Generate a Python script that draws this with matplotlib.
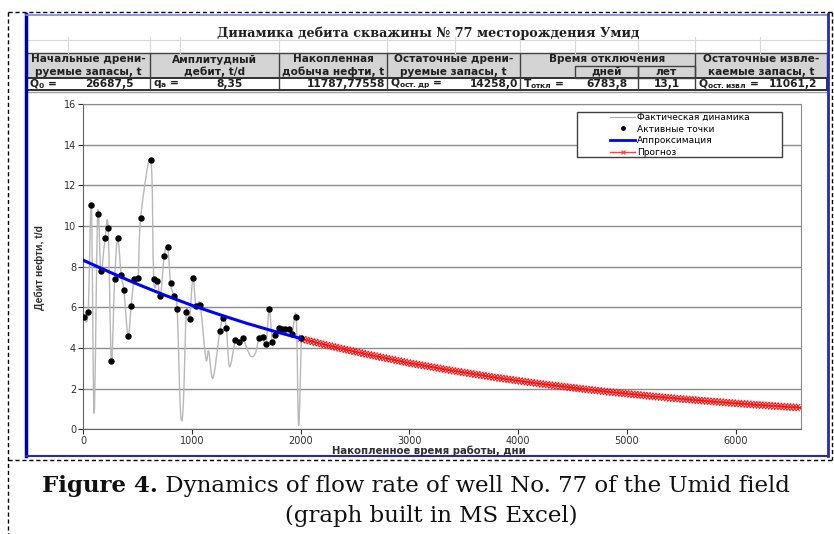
import numpy as np
import matplotlib
matplotlib.use('Agg')
import matplotlib.pyplot as plt
from matplotlib.path import Path
from matplotlib.patches import PathPatch, Rectangle
from matplotlib.lines import Line2D
import matplotlib.patheffects as pe

# ---- data ----
# actual rate (gray smoothed line), days / t per day; flag 1 = active point
fact_days = [9, 47, 77, 102, 135, 164, 203, 231, 261, 291, 319, 351, 376, 414, 443,
             470, 506, 530, 623, 650, 684, 712, 747, 778, 805, 833, 865, 895, 920,
             950, 980, 1010, 1038, 1077, 1130, 1155, 1195, 1258, 1290, 1318, 1347,
             1401, 1436, 1468, 1538, 1584, 1618, 1651, 1683, 1712, 1741, 1767, 1801,
             1830, 1861, 1892, 1922, 1960, 1982, 2007]
fact_rate = [5.51, 5.75, 11.05, 0.78, 10.6, 7.79, 9.39, 9.92, 3.36, 7.41, 9.39, 7.57,
             6.84, 4.59, 6.07, 7.38, 7.46, 10.39, 13.25, 7.4, 7.27, 6.58, 8.52, 8.98,
             7.2, 6.57, 5.93, 1.0, 1.0, 5.75, 5.43, 7.46, 6.08, 6.13, 3.45, 3.85, 2.52,
             4.84, 5.47, 4.97, 3.08, 4.39, 4.28, 4.48, 3.62, 3.74, 4.48, 4.55, 4.18,
             5.92, 4.28, 4.66, 4.97, 4.92, 4.91, 4.95, 4.7, 5.51, 0.18, 4.49]
active = [1, 1, 1, 0, 1, 1, 1, 1, 1, 1, 1, 1, 1, 1, 1, 1, 1, 1, 1, 1, 1, 1, 1, 1, 1,
          1, 1, 0, 0, 1, 1, 1, 1, 1, 0, 0, 0, 1, 1, 1, 0, 1, 1, 1, 0, 0, 1, 1, 1, 1,
          1, 1, 1, 1, 1, 1, 1, 1, 0, 1]

approx_days = [0, 250, 500, 750, 1000, 1250, 1500, 1750, 2000]
approx_rate = [8.32, 7.72, 7.14, 6.6, 6.1, 5.65, 5.22, 4.83, 4.47]

forecast_days = [2000, 2200, 2400, 2600, 2800, 3000, 3200, 3400, 3600, 3800, 4000,
                 4200, 4400, 4600, 4800, 5000, 5200, 5400, 5600, 5800, 6000, 6200,
                 6400, 6600]
forecast_rate = [4.46, 4.19, 3.94, 3.70, 3.48, 3.26, 3.07, 2.88, 2.71, 2.54, 2.39,
                 2.24, 2.11, 1.98, 1.86, 1.75, 1.64, 1.54, 1.45, 1.36, 1.28, 1.20,
                 1.13, 1.06]

legend_labels = ['Фактическая динамика', 'Активные точки', 'Аппроксимация', 'Прогноз']

title = 'Динамика дебита скважины № 77 месторождения Умид'
head_cols = [(26, 150), (150, 279), (279, 387), (387, 520), (520, 695), (695, 827)]
head_text = [('Начальные дрени-', 'руемые запасы, t'),
             ('Амплитудный', 'дебит, t/d'),
             ('Накопленная', 'добыча нефти, t'),
             ('Остаточные дрени-', 'руемые запасы, t'),
             ('Время отключения', ''),
             ('Остаточные извле-', 'каемые запасы, t')]
sub_head = [((575, 638), 'дней'), ((638, 695), 'лет')]
# value row: (left px, right px, text, align)
value_cells = [(26, 68, 'Q$_0$ =', 'left'), (68, 150, '26687,5', 'center'),
               (150, 180, 'q$_а$ =', 'left'), (180, 279, '8,35', 'center'),
               (279, 387, '11787,77558', 'right'),
               (387, 455, 'Q$_{\\mathrm{ост.др}}$ =', 'left'), (455, 520, '14258,0', 'right'),
               (520, 575, 'T$_{\\mathrm{откл}}$ =', 'left'), (575, 638, '6783,8', 'center'),
               (638, 695, '13,1', 'center'),
               (695, 760, 'Q$_{\\mathrm{ост.извл}}$ =', 'left'), (760, 827, '11061,2', 'center')]


def smooth_path(xs, ys):
    # excel-like smoothed line as bezier segments
    pts = np.column_stack([xs, ys]).astype(float)
    n = len(pts)
    verts = [pts[0]]
    codes = [Path.MOVETO]
    for i in range(n - 1):
        p0 = pts[i - 1] if i > 0 else pts[i]
        p1 = pts[i]
        p2 = pts[i + 1]
        p3 = pts[i + 2] if i + 2 < n else pts[i + 1]
        verts += [p1 + (p2 - p0) / 6.0, p2 - (p3 - p1) / 6.0, p2]
        codes += [Path.CURVE4] * 3
    return Path(verts, codes)


def main():
    plt.rcParams['font.family'] = ['DejaVu Sans']
    plt.rcParams['mathtext.fontset'] = 'custom'
    plt.rcParams['mathtext.rm'] = 'DejaVu Sans:bold'
    plt.rcParams['mathtext.it'] = 'DejaVu Sans:bold'
    plt.rcParams['mathtext.bf'] = 'DejaVu Sans:bold'

    W, H = 834, 534
    fig = plt.figure(figsize=(W / 100, H / 100), dpi=100)
    ax = fig.add_axes([83 / W, 1 - 429.3 / H, (801 - 83) / W, (429.3 - 104) / H])

    ax.set_xlim(0, 6600)
    ax.set_ylim(0, 16)
    ax.set_xticks(range(0, 7000, 1000))
    ax.set_yticks(range(0, 18, 2))
    ax.yaxis.grid(True, color='#8c8c8c', lw=1)
    ax.set_axisbelow(True)
    for s in ax.spines.values():
        s.set_color('#8c8c8c')
    ax.spines['left'].set_color('#606060')
    ax.spines['bottom'].set_color('#606060')
    ax.tick_params(labelsize=7, colors='#303030', length=3.5, width=0.8, pad=1.5)

    ax.add_patch(PathPatch(smooth_path(fact_days, fact_rate), fill=False,
                           edgecolor='#b8b8b8', lw=1.0, zorder=2))
    act_x = [d for d, a in zip(fact_days, active) if a]
    act_y = [r for r, a in zip(fact_rate, active) if a]
    ax.plot(act_x, act_y, 'o', color='black', ms=3.6, zorder=4)
    ax.plot(approx_days, approx_rate, color='#0000ff', lw=2.2, zorder=5)
    ticks = [pe.TickedStroke(angle=a, spacing=2.2, length=1.5, linewidth=0.7)
             for a in (45, 135, -45, -135)]
    ax.plot(forecast_days, forecast_rate, color='#ff1010', lw=1.0, zorder=3,
            path_effects=ticks + [pe.Normal()])

    # overlay in pixel coordinates for the table, frames and caption
    ov = fig.add_axes([0, 0, 1, 1])
    ov.set_xlim(0, W)
    ov.set_ylim(H, 0)
    ov.axis('off')

    # legend box
    ov.add_patch(Rectangle((577, 112), 205, 45, facecolor='white',
                           edgecolor='#404040', lw=1.0))
    handles = [Line2D([], [], color='#a8a8a8', lw=0.8),
               Line2D([], [], ls='none', marker='o', color='black', ms=2.5),
               Line2D([], [], color='#0000ff', lw=2.0),
               Line2D([], [], color='#ff4040', lw=1.0, marker='x', ms=2.5, mew=0.8)]
    ov.legend(handles, legend_labels, loc='center', bbox_to_anchor=(680, 135),
              bbox_transform=ov.transData, frameon=False, fontsize=6.5,
              handlelength=2.8, handletextpad=0.2, labelspacing=0.3, borderpad=0)

    # light excel grid above the header
    light = '#d8d8d8'
    ov.plot([28, 826], [40, 40], color=light, lw=0.8)
    for x in [68, 150, 180, 279, 387, 455, 520, 575, 638, 695, 760]:
        ov.plot([x, x], [37, 53], color=light, lw=0.8)

    ov.text(428, 33, title, family='DejaVu Serif', weight='bold', fontsize=9.2,
            ha='center', va='center', color='#202020')

    # header cells
    ov.add_patch(Rectangle((26, 53), 801, 25, facecolor='#d4d4d4',
                           edgecolor='#404040', lw=1.0))
    ov.add_patch(Rectangle((26, 78), 801, 12, facecolor='white',
                           edgecolor='#303030', lw=1.4))
    hs = 7.6
    for (x0, x1), (t1, t2) in zip(head_cols, head_text):
        ov.plot([x0, x0], [53, 90], color='#404040', lw=1.0)
        cx = (x0 + x1) / 2
        ov.text(cx, 59.5, t1, fontsize=hs, weight='bold', ha='center', va='center',
                color='#202020')
        if t2:
            ov.text(cx, 72, t2, fontsize=hs, weight='bold', ha='center', va='center',
                    color='#202020')
    for (x0, x1), t in sub_head:
        ov.add_patch(Rectangle((x0, 65.7), x1 - x0, 12.3, facecolor='none',
                               edgecolor='#404040', lw=1.0))
        ov.text((x0 + x1) / 2, 72, t, fontsize=hs, weight='bold', ha='center',
                va='center', color='#202020')
    ov.plot([638, 638], [78, 90], color='#404040', lw=1.0)
    for x0, x1, t, al in value_cells:
        if al == 'left':
            tx = x0 + 3
        elif al == 'right':
            tx = x1 - 2
        else:
            tx = (x0 + x1) / 2
        ov.text(tx, 84, t, fontsize=7.7, weight='bold', ha=al, va='center',
                color='#202020')
    ov.plot([28, 826], [91.5, 91.5], color='#a0a0a0', lw=1.0)

    # axis titles
    ov.text(40, 268, 'Дебит нефти, t/d', rotation=90, fontsize=7.5, weight='bold',
            family='Liberation Sans', ha='center', va='center', color='#303030')
    ov.text(429, 451, 'Накопленное время работы, дни', fontsize=7.3, weight='bold',
            ha='center', va='center', color='#303030')

    # blue chart frame
    ov.plot([26, 26], [14, 456], color='#0000a8', lw=2.5)
    ov.plot([26, 828], [14.5, 14.5], color='#8080f0', lw=1.2)
    ov.plot([828, 828], [14, 456], color='#2828b8', lw=2.0)
    ov.plot([26, 828], [456, 456], color='#2828b8', lw=1.5)

    # dashed outer border
    dash = dict(color='black', lw=1.0, ls=(0, (3, 2)))
    ov.plot([8, 832], [12, 12], **dash)
    ov.plot([832, 832], [12, 460], **dash)
    ov.plot([8, 832], [460, 460], **dash)
    ov.plot([8, 8], [12, 534], **dash)

    # caption
    fig.canvas.draw()
    r = fig.canvas.get_renderer()
    cap = dict(family='DejaVu Serif', fontsize=16.5, va='baseline', color='#101010')
    c1 = ov.text(0, 492, 'Figure 4.', weight='bold', ha='left', **cap)
    c2 = ov.text(0, 492, ' Dynamics of flow rate of well No. 77 of the Umid field',
                 ha='left', **cap)
    inv = ov.transData.inverted()
    w1 = inv.transform(c1.get_window_extent(r))[:, 0]
    w2 = inv.transform(c2.get_window_extent(r))[:, 0]
    w1 = w1[1] - w1[0]
    w2 = w2[1] - w2[0]
    x0 = 416 - (w1 + w2) / 2
    c1.set_x(x0)
    c2.set_x(x0 + w1)
    ov.text(431, 522, '(graph built in MS Excel)', ha='center', **cap)

    fig.savefig('out.png', dpi=100)


if __name__ == '__main__':
    main()
